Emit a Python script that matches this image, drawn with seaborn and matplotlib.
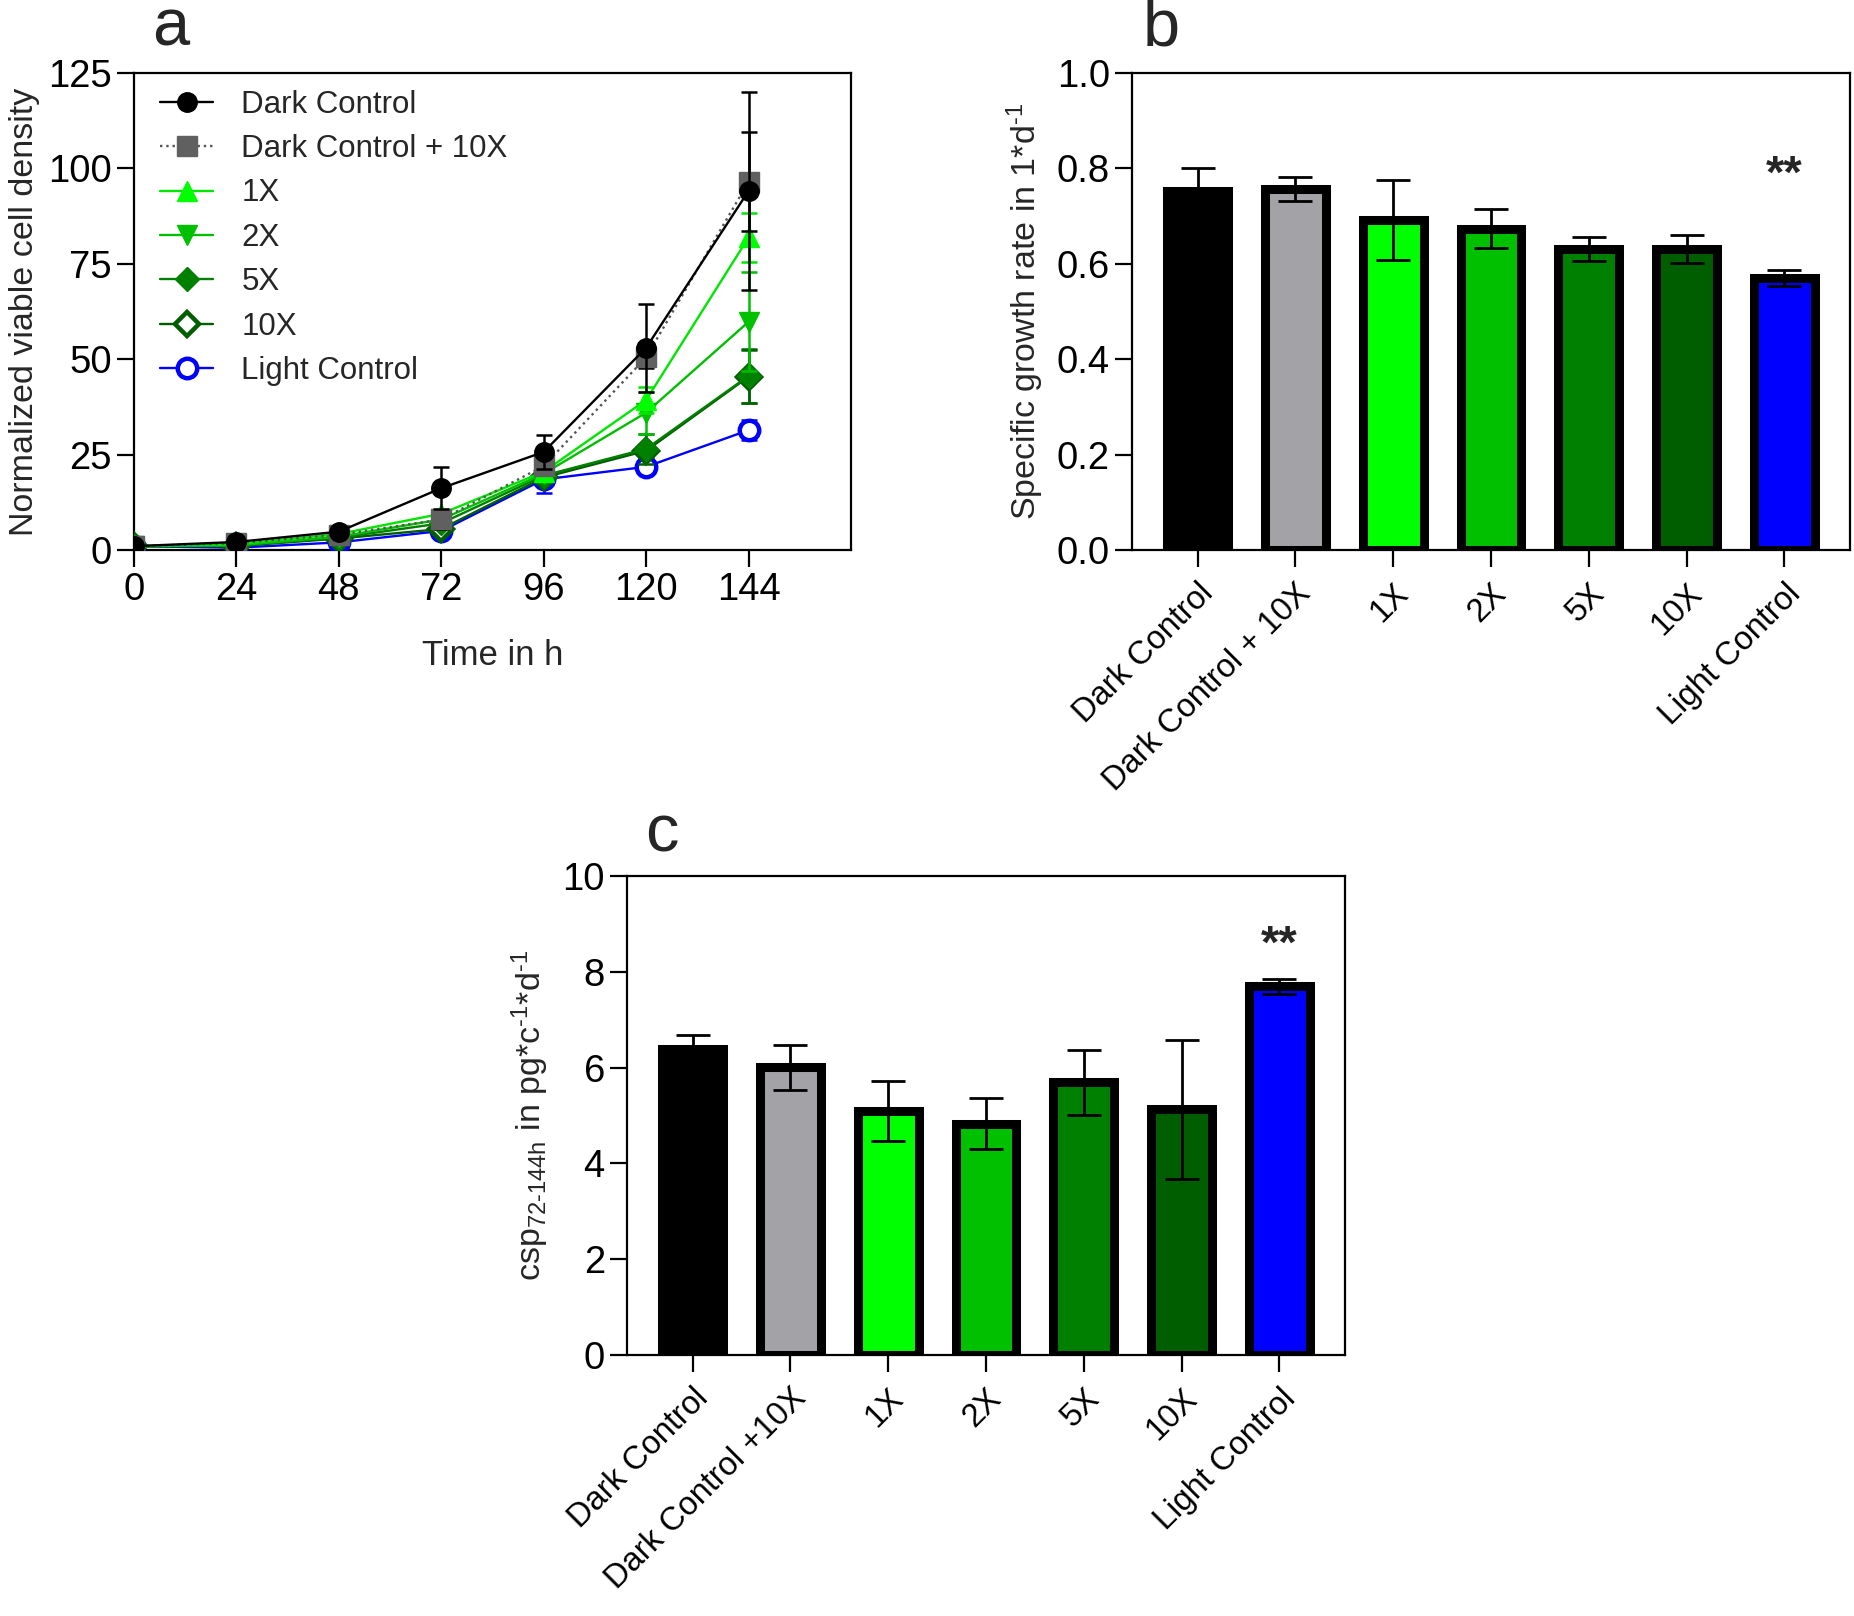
import matplotlib
matplotlib.use("Agg")
import matplotlib.pyplot as plt
import seaborn as sns


sns.set_theme(style="ticks")
plt.rcParams["font.family"] = ["Liberation Sans", "DejaVu Sans"]
plt.rcParams["mathtext.fontset"] = "custom"
plt.rcParams["mathtext.rm"] = "Liberation Sans"
plt.rcParams["mathtext.it"] = "Liberation Sans:italic"

# ---- data ----
groups = ["Dark Control", "Dark Control + 10X", "1X", "2X", "5X", "10X", "Light Control"]
groups_c = ["Dark Control", "Dark Control +10X", "1X", "2X", "5X", "10X", "Light Control"]
time_h = [0, 24, 48, 72, 96, 120, 144]

density_dark = [1.0, 2.1, 4.8, 16.2, 25.7, 53.0, 94.1]
density_dark10 = [1.0, 1.8, 4.0, 8.0, 22.0, 50.5, 96.5]
density_1x = [1.0, 1.5, 4.2, 9.5, 20.5, 39.3, 81.9]
density_2x = [1.0, 1.2, 3.5, 8.0, 20.0, 36.0, 59.8]
density_5x = [1.0, 1.2, 3.2, 7.0, 19.5, 26.5, 45.6]
density_10x = [1.0, 1.0, 3.0, 5.5, 19.0, 26.0, 45.4]
density_light = [1.0, 0.6, 2.0, 5.0, 18.5, 21.8, 31.4]

sd_dark = [0.2, 0.4, 0.6, 5.5, 4.5, 11.5, 26.0]
sd_dark10 = [0.2, 0.3, 0.6, 2.5, 2.0, 2.8, 13.0]
sd_1x = [0.2, 0.3, 0.5, 1.0, 1.5, 3.5, 6.5]
sd_2x = [0.2, 0.3, 0.5, 1.0, 1.5, 5.5, 13.0]
sd_5x = [0.2, 0.3, 0.5, 1.0, 1.5, 4.0, 7.0]
sd_10x = [0.2, 0.3, 0.5, 1.0, 1.5, 1.5, 7.0]
sd_light = [0.2, 0.3, 0.5, 0.8, 3.5, 2.0, 2.6]

growth_rate = [0.753, 0.757, 0.692, 0.674, 0.631, 0.631, 0.571]
growth_sd = [0.047, 0.025, 0.083, 0.040, 0.025, 0.029, 0.017]

csp = [6.38, 6.01, 5.09, 4.83, 5.69, 5.13, 7.70]
csp_sd = [0.31, 0.47, 0.62, 0.53, 0.68, 1.45, 0.16]

bar_colors = ["#000000", "#A3A3A7", "#00FF00", "#00C000", "#008000", "#005E00", "#0000FF"]

W, H = 1854, 1616
fig = plt.figure(figsize=(W / 100, H / 100), dpi=100)


def style_axes(ax):
    for side in ["top", "right", "bottom", "left"]:
        ax.spines[side].set_visible(True)
        ax.spines[side].set_linewidth(1.6)
        ax.spines[side].set_color("black")
    ax.tick_params(axis="both", direction="out", length=12, width=1.6,
                   colors="black", labelsize=27.5, pad=4)
    ax.set_facecolor("white")


# ---- panel a ----
ax_a = fig.add_axes([134 / W, 1 - 550 / H, 717 / W, 477 / H])
series = [
    ("Dark Control", density_dark, sd_dark, "black", "o", "-", "black", "black"),
    ("Dark Control + 10X", density_dark10, sd_dark10, "#555555", "s", ":", "#606060", "black"),
    ("1X", density_1x, sd_1x, "#00E600", "^", "-", "#00FF00", "#00E600"),
    ("2X", density_2x, sd_2x, "#00BE00", "v", "-", "#00C000", "#00BE00"),
    ("5X", density_5x, sd_5x, "#008000", "D", "-", "#008000", "#006400"),
    ("10X", density_10x, sd_10x, "#005E00", "D", "-", "white", "#005E00"),
    ("Light Control", density_light, sd_light, "#0000FF", "o", "-", "white", "#0000FF"),
]
order_z = {"Dark Control": 9, "Dark Control + 10X": 8, "1X": 7, "2X": 6,
           "5X": 5, "10X": 4, "Light Control": 3}
for name, vals, sd, col, mk, ls, mfc, ecol in series:
    ax_a.errorbar(time_h, vals, yerr=sd, fmt="none", ecolor=ecol, capsize=6,
                  elinewidth=1.8, capthick=1.8, zorder=order_z[name])
    hollow = mfc == "white"
    msize = 14 if mk != "D" else 12.5
    sns.lineplot(x=time_h, y=vals, ax=ax_a, color=col, linestyle=ls, linewidth=1.7,
                 marker=mk, markersize=msize, markerfacecolor=mfc,
                 markeredgecolor=col if hollow else mfc,
                 markeredgewidth=3.2 if hollow else 1,
                 label=name, zorder=order_z[name])

ax_a.set_xlim(0, 168)
ax_a.set_ylim(0, 125)
ax_a.set_xticks(time_h)
ax_a.set_yticks([0, 25, 50, 75, 100, 125])
ax_a.set_xlabel("Time in h", fontsize=25, labelpad=22)
ax_a.set_ylabel("Normalized viable cell density", fontsize=24.5, labelpad=6)
style_axes(ax_a)
ax_a.legend(loc="upper left", bbox_to_anchor=(26 / 717, 0.965), frameon=False,
            fontsize=22.5, handlelength=1.7, handletextpad=0.9, labelspacing=0.46,
            borderpad=0, borderaxespad=0)


def bar_panel(ax, labels, values, errs, ylim, yticks, fmt, ylabel, star_y):
    sns.barplot(x=labels, y=values, hue=labels, palette=bar_colors, legend=False,
                edgecolor="black", linewidth=6.5, width=0.62, errorbar=None,
                saturation=1, ax=ax)
    ax.errorbar(range(len(values)), values, yerr=errs, fmt="none", ecolor="black",
                capsize=12, elinewidth=2, capthick=2, zorder=5)
    ax.set_xlim(-0.67, len(values) - 0.33)
    ax.set_ylim(*ylim)
    ax.set_yticks(yticks)
    ax.set_yticklabels([fmt.format(v) for v in yticks])
    ax.set_xlabel("")
    ax.set_ylabel(ylabel, fontsize=24.5, labelpad=8)
    style_axes(ax)
    ax.tick_params(axis="x", labelsize=23.5, pad=8)
    for lab in ax.get_xticklabels():
        lab.set_rotation(45)
        lab.set_ha("right")
        lab.set_rotation_mode("anchor")
    ax.text(len(values) - 1, star_y, "**", ha="center", va="center",
            fontsize=34, fontweight="bold")


# ---- panel b ----
ax_b = fig.add_axes([1132 / W, 1 - 550 / H, 718 / W, 477 / H])
bar_panel(ax_b, groups, growth_rate, growth_sd, (0, 1.0),
          [0.0, 0.2, 0.4, 0.6, 0.8, 1.0], "{:.1f}",
          "Specific growth rate in 1*d$^{\\mathregular{\\text{-}1}}$", 0.785)

# ---- panel c ----
ax_c = fig.add_axes([627 / W, 1 - 1355 / H, 718 / W, 479 / H])
bar_panel(ax_c, groups_c, csp, csp_sd, (0, 10), [0, 2, 4, 6, 8, 10], "{:d}",
          "csp$_{\\mathregular{72\\text{-}144h}}$ in pg*c$^{\\mathregular{\\text{-}1}}$*d$^{\\mathregular{\\text{-}1}}$",
          8.55)

# ---- panel letters ----
fig.text(171 / W, 1 - 28 / H, "a", fontsize=48, ha="center", va="center")
fig.text(1161 / W, 1 - 28 / H, "b", fontsize=48, ha="center", va="center")
fig.text(662 / W, 1 - 834 / H, "c", fontsize=48, ha="center", va="center")

fig.savefig("out.png", dpi=100, facecolor="white")
